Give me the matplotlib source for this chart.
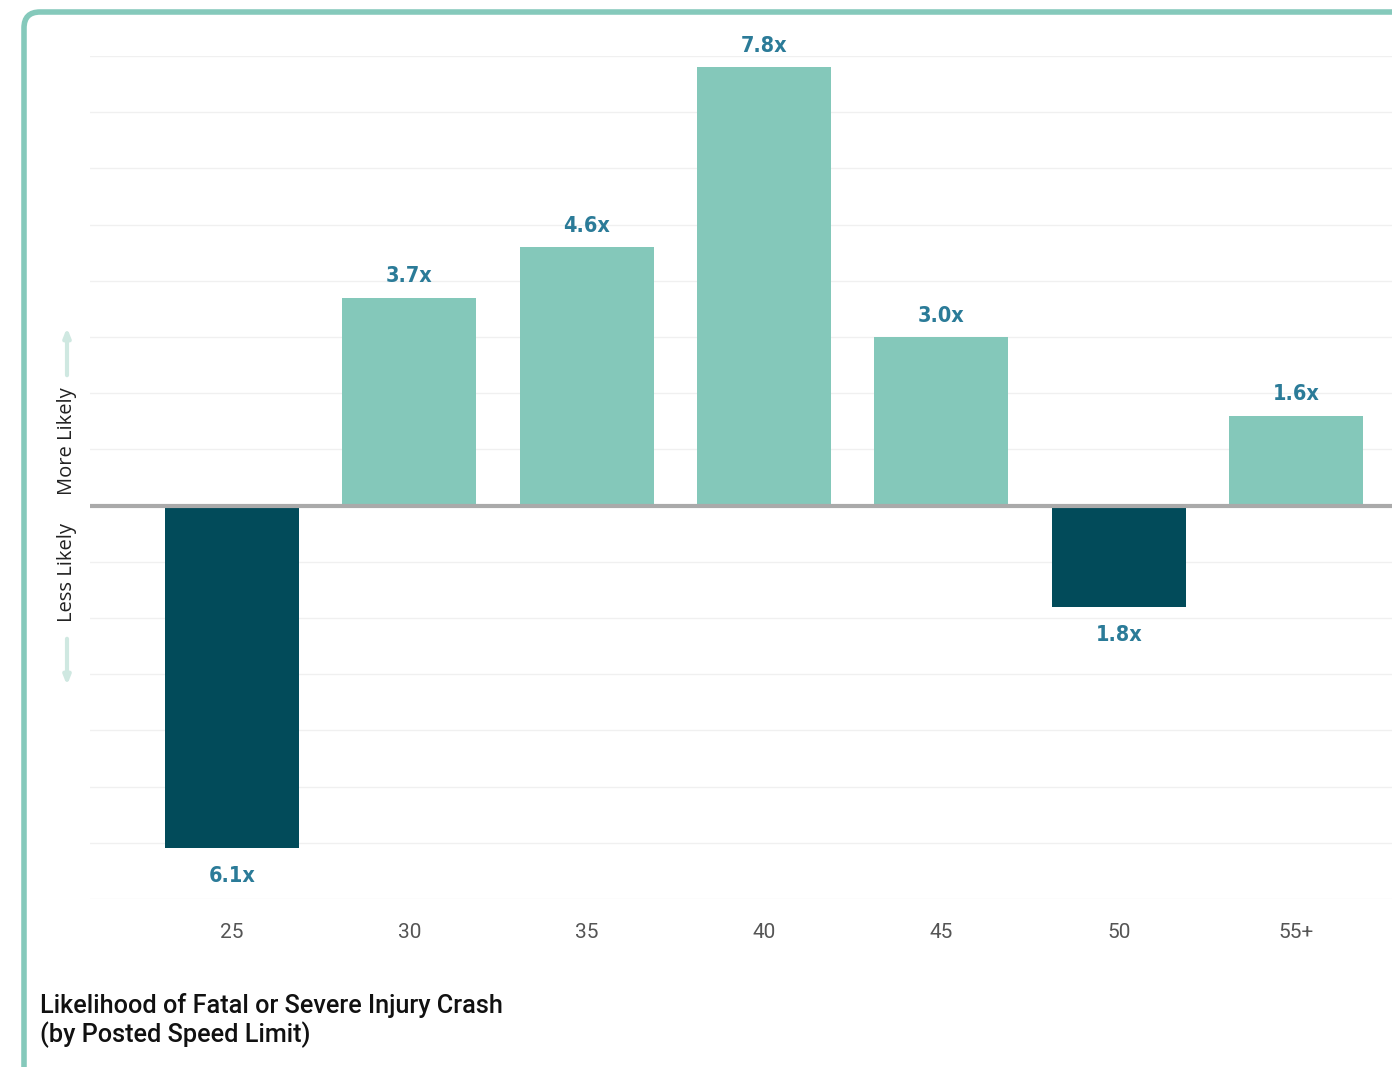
import matplotlib.pyplot as plt
from matplotlib.patches import FancyBboxPatch

speeds = ['25', '30', '35', '40', '45', '50', '55+']
likelihood = [-6.1, 3.7, 4.6, 7.8, 3.0, -1.8, 1.6]
value_labels = ['6.1x', '3.7x', '4.6x', '7.8x', '3.0x', '1.8x', '1.6x']

W, H = 1392, 1067
fig = plt.figure(figsize=(W / 100, H / 100), dpi=100)

# background card drawn in pixel coordinates
bg = fig.add_axes([0, 0, 1, 1], zorder=0)
bg.set_xlim(0, W)
bg.set_ylim(H, 0)
bg.axis('off')
card = FancyBboxPatch((24, 12), 1420, 1080, boxstyle='round,pad=0,rounding_size=16',
                      facecolor='white', edgecolor='#85c9bb', linewidth=4)
bg.add_patch(card)

# side labels and arrows
bg.text(67, 441, 'More Likely', rotation=90, ha='center', va='center',
        fontsize=14.5, color='#222222', family='Open Sans')
bg.text(67, 572, 'Less Likely', rotation=90, ha='center', va='center',
        fontsize=14.5, color='#222222', family='Open Sans')
arrow_kw = dict(arrowstyle='-|>,head_length=0.5,head_width=0.2', color='#cfe8e1', lw=3)
bg.annotate('', xy=(67, 325), xytext=(67, 378), arrowprops=arrow_kw)
bg.annotate('', xy=(67, 688), xytext=(67, 636), arrowprops=arrow_kw)

bg.text(40, 1005, 'Likelihood of Fatal or Severe Injury Crash', ha='left', va='center',
        fontsize=18.2, color='#111111', family='Roboto', fontweight='medium')
bg.text(40, 1035, '(by Posted Speed Limit)', ha='left', va='center',
        fontsize=18.2, color='#111111', family='Roboto', fontweight='medium')

# main chart
left, right, top, bottom = 90, 1438, 56, 899
ax = fig.add_axes([left / W, 1 - bottom / H, (right - left) / W, (bottom - top) / H], zorder=1)
ax.patch.set_alpha(0)
x = list(range(len(speeds)))
colors = ['#024b5a' if v < 0 else '#84c8ba' for v in likelihood]
ax.bar(x, likelihood, width=0.755, color=colors, zorder=2)
ax.set_xlim(-0.8, 6.8)
ax.set_ylim(-7, 8)

for yv in range(-7, 9):
    if yv != 0:
        ax.axhline(yv, color='#f0f0f0', lw=1, zorder=1)
ax.axhline(0, color='#aaaaaa', lw=3, zorder=3)

lab_kw = dict(ha='center', fontsize=15.5, fontweight='bold', color='#2b7b98',
              family='DejaVu Sans', fontstretch='condensed')
for xi, v, lab in zip(x, likelihood, value_labels):
    if v >= 0:
        ax.text(xi, v + 0.2, lab, va='bottom', **lab_kw)
    else:
        ax.text(xi, v - 0.32, lab, va='top', **lab_kw)

ax.set_xticks(x)
ax.set_xticklabels(speeds, fontsize=15, color='#555555', family='Roboto')
ax.tick_params(axis='x', length=0, pad=17)
ax.set_yticks([])
for s in ax.spines.values():
    s.set_visible(False)

fig.savefig('out.png', dpi=100)
